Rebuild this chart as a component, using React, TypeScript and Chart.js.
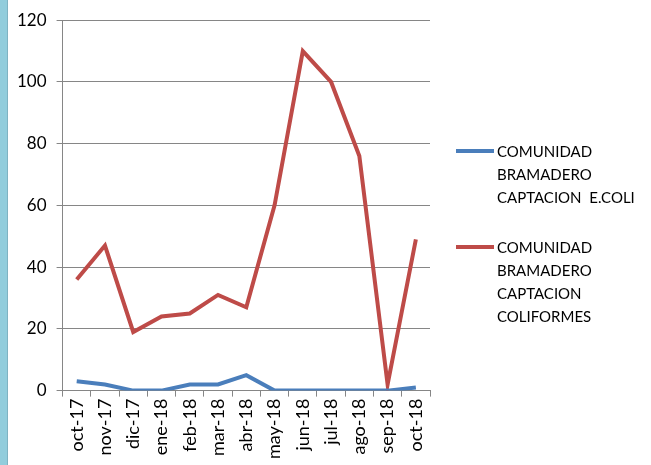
import React, { useEffect, useRef } from "react";
import { Chart, registerables } from "chart.js";

Chart.register(...registerables);

const categories = ["oct-17", "nov-17", "dic-17", "ene-18", "feb-18", "mar-18", "abr-18", "may-18", "jun-18", "jul-18", "ago-18", "sep-18", "oct-18"];
const ecoliValues = [3, 2, 0, 0, 2, 2, 5, 0, 0, 0, 0, 0, 1];
const coliformesValues = [36, 47, 19, 24, 25, 31, 27, 60, 110, 100, 76, 2, 49];
const ecoliLabel = ["COMUNIDAD", "BRAMADERO", "CAPTACION  E.COLI"];
const coliformesLabel = ["COMUNIDAD", "BRAMADERO", "CAPTACION", "COLIFORMES"];
const yTicks = [0, 20, 40, 60, 80, 100, 120];

const BLUE = "#4A7EBB";
const RED = "#BE4B48";
const FONT = "Lato, 'Open Sans', sans-serif";

export default function App() {
  const ref = useRef<HTMLCanvasElement | null>(null);

  useEffect(() => {
    document.body.style.margin = "0";
    if (!ref.current) return;
    const chart = new Chart(ref.current, {
      type: "line",
      data: {
        labels: categories,
        datasets: [
          {
            label: ecoliLabel.join(" "),
            data: ecoliValues,
            borderColor: BLUE,
            backgroundColor: BLUE,
            borderWidth: 4,
            pointRadius: 0,
            tension: 0,
          },
          {
            label: coliformesLabel.join(" "),
            data: coliformesValues,
            borderColor: RED,
            backgroundColor: RED,
            borderWidth: 4,
            pointRadius: 0,
            tension: 0,
          },
        ],
      },
      options: {
        animation: false,
        responsive: false,
        maintainAspectRatio: false,
        layout: { padding: { left: 7, right: 221, top: 4, bottom: 4 } },
        plugins: { legend: { display: false }, tooltip: { enabled: false } },
        scales: {
          x: {
            offset: true,
            grid: {
              offset: true,
              drawOnChartArea: false,
              drawTicks: true,
              tickLength: 6,
              color: "#868686",
            },
            border: { color: "#868686", width: 1 },
            ticks: {
              color: "#000",
              font: { family: FONT, size: 18 },
              minRotation: 90,
              maxRotation: 90,
              autoSkip: false,
              padding: 2,
            },
          },
          y: {
            min: 0,
            max: 120,
            afterBuildTicks: (axis: any) => {
              axis.ticks = yTicks.map((v) => ({ value: v }));
            },
            grid: { color: "#868686", tickLength: 6, lineWidth: 1 },
            border: { color: "#868686", width: 1 },
            ticks: {
              color: "#000",
              font: { family: FONT, size: 17 },
              padding: 10,
            },
          },
        },
      },
    });
    return () => chart.destroy();
  }, []);

  const legendItem = (lines: string[], color: string, top: number) => (
    <div style={{ position: "absolute", left: 456, top, display: "flex", alignItems: "flex-start" }}>
      <div style={{ width: 38, height: 4, background: color, marginTop: 9, marginRight: 3 }} />
      <div style={{ fontFamily: FONT, fontSize: 15, lineHeight: "23px", color: "#000", whiteSpace: "pre" }}>
        {lines.map((l, i) => (
          <div key={i}>{l}</div>
        ))}
      </div>
    </div>
  );

  return (
    <div style={{ position: "absolute", left: 0, top: 0, width: 651, height: 465, background: "#fff", overflow: "hidden" }}>
      <canvas ref={ref} width={651} height={465} style={{ position: "absolute", left: 0, top: 0, width: 651, height: 465 }} />
      <div style={{ position: "absolute", left: 0, top: 0, width: 7, height: 465, background: "#92CDDC", borderRight: "1px solid #7FB3C2" }} />
      {legendItem(ecoliLabel, BLUE, 140)}
      {legendItem(coliformesLabel, RED, 236)}
    </div>
  );
}
